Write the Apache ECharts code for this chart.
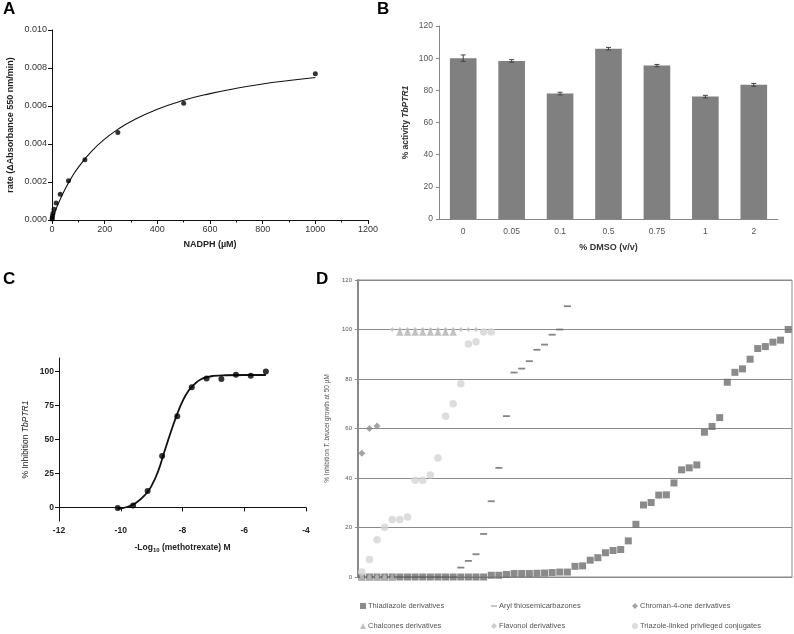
<!DOCTYPE html>
<html>
<head>
<meta charset="utf-8">
<script src="https://cdn.jsdelivr.net/npm/echarts@6/dist/echarts.min.js"></script>
<style>html,body{margin:0;padding:0;background:#fff}#c{width:794px;height:634px}</style>
</head>
<body>
<div id="c"></div>
<script>
// ---------- Panel A data ----------
const A_conc = [1000, 500, 250, 125, 62.5, 31.25, 15.6, 7.8, 3.9, 1.95, 0.98, 0.49];
const A_rate = [0.0077, 0.00615, 0.0046, 0.00317, 0.00206, 0.00136, 0.00089, 0.00057, 0.00035, 0.00022, 0.00012, 0.00005];
const A_fitX = [0, 10, 25, 50, 75, 100, 150, 200, 250, 300, 400, 500, 600, 700, 800, 900, 1000];
const A_fitY = [0, 0.00038, 0.00089, 0.00163, 0.00225, 0.00277, 0.00361, 0.00426, 0.00477, 0.00519, 0.00583, 0.00630, 0.00665, 0.00693, 0.00716, 0.00734, 0.00750];

// ---------- Panel B data ----------
const B_cats = ['0', '0.05', '0.1', '0.5', '0.75', '1', '2'];
const B_vals = [100, 98.3, 78.0, 105.9, 95.4, 76.1, 83.4];
const B_err = [2.0, 0.8, 0.8, 0.8, 0.7, 0.8, 0.9];

// ---------- Panel C data ----------
const C_x = [-10.1, -9.6, -9.13, -8.66, -8.17, -7.7, -7.22, -6.74, -6.27, -5.79, -5.3];
const C_y = [-0.5, 1.5, 12.0, 37.8, 67.1, 88.5, 94.9, 94.6, 97.6, 96.9, 100];
const C_fitX = [-10.1, -9.8, -9.5, -9.2, -9.0, -8.8, -8.6, -8.4, -8.2, -8.0, -7.8, -7.6, -7.4, -7.2, -7.0, -6.6, -6.0, -5.3];
const C_fitY = [-1.3, 0.3, 3.5, 9.5, 16, 26, 40, 54, 67, 78, 86, 91, 94.3, 96, 96.8, 97.3, 97.5, 97.5];
const C_ticks = [0, 25, 50, 75, 100];

// ---------- Panel D data ----------
const D_thiadiazole = [0,0,0,0,0,0,0,0,0,0,0,0,0,0,0,0,0,0.7,0.7,1.0,1.4,1.4,1.4,1.5,1.6,1.8,2.0,2.0,4.3,4.5,6.8,7.8,9.8,10.7,11.1,14.6,21.3,29.1,30.1,33.1,33.2,38.0,43.3,44.1,45.3,58.5,60.8,64.4,78.7,82.7,84.1,88.0,92.3,93.1,94.9,95.7,100];
const D_aryl = [0,0,0,0,0,0,0,0,0,0,0,0,0,3.8,6.5,9.2,17.4,30.6,44.1,65,82.6,84.2,87.2,91.8,93.9,97.9,100,109.4];
const D_chroman = [50, 60, 61];
const D_chalcones = [0,0,0,0,0,99,99,99,99,99,99,99,99];
const D_flavonol = [0,0,0,0,100,100,100,100,100,100,100,100,100,100,100,100];
const D_triazole = [2.0,7.1,15.1,20.1,23.2,23.2,24.2,39.1,39.1,41.2,48.1,65,70,78.1,94.1,95.1,99,99];
const D_names = ['Thiadiazole derivatives','Aryl thiosemicarbazones','Chroman-4-one derivatives','Chalcones derivatives','Flavonol derivatives','Triazole-linked privileged conjugates'];

const FF = '"Liberation Sans", Arial, sans-serif';
const idx = arr => arr.map((v, i) => [i + 1, v]);

const blackAxis = {
  axisLine: {show: true, lineStyle: {color: '#111', width: 1}},
  axisTick: {show: true, length: 4, lineStyle: {color: '#111'}},
  splitLine: {show: false}
};
const legendBase = {orient: 'vertical', top: 602, padding: 0, itemWidth: 6, itemHeight: 6, itemGap: 12,
  textStyle: {fontSize: 7.5, color: '#555', fontFamily: FF, padding: [0, 0, 0, -3]}};

const chart = echarts.init(document.getElementById('c'), null, {renderer: 'canvas'});
chart.setOption({
  animation: false,
  textStyle: {fontFamily: FF},
  title: [
    {text: 'A', left: 3, top: 1, padding: 0, textStyle: {fontSize: 17, fontWeight: 'bold', color: '#000', fontFamily: FF}},
    {text: 'B', left: 377, top: 1, padding: 0, textStyle: {fontSize: 17, fontWeight: 'bold', color: '#000', fontFamily: FF}},
    {text: 'C', left: 3, top: 271, padding: 0, textStyle: {fontSize: 17, fontWeight: 'bold', color: '#000', fontFamily: FF}},
    {text: 'D', left: 316, top: 271, padding: 0, textStyle: {fontSize: 17, fontWeight: 'bold', color: '#000', fontFamily: FF}}
  ],
  legend: [
    Object.assign({}, legendBase, {left: 360, data: [D_names[0], D_names[3]]}),
    Object.assign({}, legendBase, {left: 491, data: [{name: D_names[1], icon: 'path://M0,5H10V6.5H0Z'}, D_names[4]]}),
    Object.assign({}, legendBase, {left: 632, data: [D_names[2], D_names[5]]})
  ],
  grid: [
    {left: 52, top: 30, width: 316, height: 190},
    {left: 439, top: 26, width: 339, height: 193},
    {left: 59, top: 358, width: 247, height: 163},
    {left: 358, top: 280, width: 434, height: 297, show: true, borderColor: '#8a8a8a', borderWidth: 1}
  ],
  xAxis: [
    Object.assign({}, blackAxis, {gridIndex: 0, type: 'value', min: 0, max: 1200, interval: 200,
      minorTick: {show: true, splitNumber: 2, length: 2.5, lineStyle: {color: '#111'}},
      axisLabel: {fontSize: 9, color: '#333', margin: 5, formatter: v => String(v)},
      name: 'NADPH (µM)', nameLocation: 'middle', nameGap: 20,
      nameTextStyle: {fontSize: 9, fontWeight: 'bold', color: '#222'}}),
    {gridIndex: 1, type: 'category', data: B_cats,
      axisLine: {show: true, lineStyle: {color: '#888'}}, axisTick: {show: false},
      axisLabel: {fontSize: 8.5, color: '#555', margin: 8},
      name: '% DMSO (v/v)', nameLocation: 'middle', nameGap: 24,
      nameTextStyle: {fontSize: 9, fontWeight: 'bold', color: '#333'}},
    Object.assign({}, blackAxis, {gridIndex: 2, type: 'value', min: -12, max: -4, interval: 2,
      axisLabel: {fontSize: 8.5, fontWeight: 'bold', color: '#222', margin: 5},
      name: '{a|-Log}{s|10}{a| (methotrexate) M}', nameLocation: 'middle', nameGap: 22,
      nameTextStyle: {rich: {
        a: {fontSize: 8.5, fontWeight: 'bold', color: '#222', fontFamily: FF},
        s: {fontSize: 6, fontWeight: 'bold', color: '#222', fontFamily: FF, padding: [4, 0, 0, 0]}
      }}}),
    {gridIndex: 3, type: 'value', min: 0.5, max: 57.5,
      axisLine: {show: true, lineStyle: {color: '#8a8a8a'}}, axisTick: {show: false},
      axisLabel: {show: false}, splitLine: {show: false}}
  ],
  yAxis: [
    Object.assign({}, blackAxis, {gridIndex: 0, type: 'value', min: 0, max: 0.010, interval: 0.002,
      axisLabel: {fontSize: 9, color: '#333', margin: 5, formatter: v => v.toFixed(3)},
      name: 'rate (ΔAbsorbance 550 nm/min)', nameLocation: 'middle', nameGap: 37,
      nameTextStyle: {fontSize: 9, fontWeight: 'bold', color: '#222'}}),
    {gridIndex: 1, type: 'value', min: 0, max: 120, interval: 20,
      axisLine: {show: true, lineStyle: {color: '#888'}},
      axisTick: {show: true, length: 3, lineStyle: {color: '#888'}},
      splitLine: {show: false},
      axisLabel: {fontSize: 8.5, color: '#555', margin: 6},
      name: '{a|% activity }{i|TbPTR1}', nameLocation: 'middle', nameGap: 29,
      nameTextStyle: {rich: {
        a: {fontSize: 8.5, fontWeight: 'bold', color: '#333', fontFamily: FF},
        i: {fontSize: 8.5, fontWeight: 'bold', fontStyle: 'italic', color: '#333', fontFamily: FF}
      }}},
    Object.assign({}, blackAxis, {gridIndex: 2, type: 'value', min: -10, max: 110,
      axisTick: {show: true, length: 4, lineStyle: {color: '#111'}, customValues: C_ticks},
      axisLabel: {fontSize: 8.5, fontWeight: 'bold', color: '#222', margin: 5, customValues: C_ticks},
      name: '{a|% Inhibition }{i|TbPTR1}', nameLocation: 'middle', nameGap: 29,
      nameTextStyle: {rich: {
        a: {fontSize: 8.5, color: '#222', fontFamily: FF},
        i: {fontSize: 8.5, fontStyle: 'italic', color: '#222', fontFamily: FF}
      }}}),
    {gridIndex: 3, type: 'value', min: 0, max: 120, interval: 20,
      axisLine: {show: true, lineStyle: {color: '#8a8a8a', width: 2}},
      axisTick: {show: true, length: 3, lineStyle: {color: '#8a8a8a'}},
      splitLine: {show: true, lineStyle: {color: '#8a8a8a', width: 1}},
      axisLabel: {fontSize: 6, color: '#555', margin: 6},
      name: '{a|% Inhibition }{i|T. brucei}{a| growth at 50 µM}', nameLocation: 'middle', nameGap: 24,
      nameTextStyle: {rich: {
        a: {fontSize: 6.5, color: '#555', fontFamily: FF},
        i: {fontSize: 6.5, fontStyle: 'italic', color: '#555', fontFamily: FF}
      }}}
  ],
  series: [
    // Panel A
    {type: 'line', xAxisIndex: 0, yAxisIndex: 0, data: A_fitX.map((x, i) => [x, A_fitY[i]]),
     smooth: true, showSymbol: false, lineStyle: {color: '#111', width: 1.1}, z: 2},
    {type: 'scatter', xAxisIndex: 0, yAxisIndex: 0, data: A_conc.map((x, i) => [x, A_rate[i]]),
     symbolSize: 5, itemStyle: {color: '#000'}, z: 3},
    // Panel B
    {type: 'bar', xAxisIndex: 1, yAxisIndex: 1, data: B_vals, barCategoryGap: '45%',
     itemStyle: {color: '#808080'}},
    {type: 'custom', xAxisIndex: 1, yAxisIndex: 1, z: 5,
     data: B_vals.map((v, i) => [i, v, B_err[i]]),
     encode: {x: 0, y: 1},
     renderItem: function (params, api) {
       const x = api.value(0), v = api.value(1), e = api.value(2);
       const hi = api.coord([x, v + e]);
       const lo = api.coord([x, v - e]);
       const w = 2.5;
       const st = {stroke: '#444', lineWidth: 1};
       return {type: 'group', children: [
         {type: 'line', shape: {x1: hi[0], y1: hi[1], x2: lo[0], y2: lo[1]}, style: st},
         {type: 'line', shape: {x1: hi[0] - w, y1: hi[1], x2: hi[0] + w, y2: hi[1]}, style: st},
         {type: 'line', shape: {x1: lo[0] - w, y1: lo[1], x2: lo[0] + w, y2: lo[1]}, style: st}
       ]};
     }},
    // Panel C
    {type: 'line', xAxisIndex: 2, yAxisIndex: 2, data: C_fitX.map((x, i) => [x, C_fitY[i]]),
     smooth: true, showSymbol: false, lineStyle: {color: '#111', width: 1.8}, z: 2},
    {type: 'scatter', xAxisIndex: 2, yAxisIndex: 2, data: C_x.map((x, i) => [x, C_y[i]]),
     symbolSize: 6, itemStyle: {color: '#000'}, z: 3},
    // Panel D
    {name: D_names[0], type: 'scatter', xAxisIndex: 3, yAxisIndex: 3, data: idx(D_thiadiazole),
     symbol: 'rect', symbolSize: 7, itemStyle: {color: '#6e6e6e'}, z: 3},
    {name: D_names[1], type: 'scatter', xAxisIndex: 3, yAxisIndex: 3, data: idx(D_aryl),
     symbol: 'rect', symbolSize: [7, 1.8], itemStyle: {color: '#666'}, z: 4},
    {name: D_names[2], type: 'scatter', xAxisIndex: 3, yAxisIndex: 3, data: idx(D_chroman),
     symbol: 'diamond', symbolSize: 7, itemStyle: {color: '#8e8e8e'}, z: 5},
    {name: D_names[3], type: 'scatter', xAxisIndex: 3, yAxisIndex: 3, data: idx(D_chalcones),
     symbol: 'triangle', symbolSize: 7.5, itemStyle: {color: '#b3b3b3'}, z: 6},
    {name: D_names[4], type: 'scatter', xAxisIndex: 3, yAxisIndex: 3, data: idx(D_flavonol),
     symbol: 'diamond', symbolSize: 5, itemStyle: {color: '#c2c2c2'}, z: 5},
    {name: D_names[5], type: 'scatter', xAxisIndex: 3, yAxisIndex: 3, data: idx(D_triazole),
     symbol: 'circle', symbolSize: 7.5, itemStyle: {color: '#d4d4d4'}, z: 7}
  ]
});
</script>
</body>
</html>
